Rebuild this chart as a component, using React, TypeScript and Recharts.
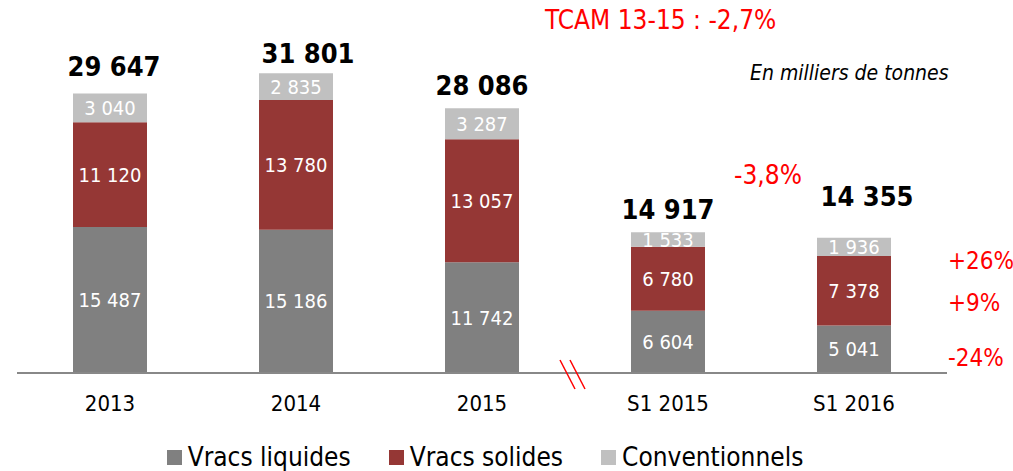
import { BarChart, Bar, XAxis, YAxis, LabelList } from 'recharts';

const categories = ['2013', '2014', '2015', 'S1 2015', 'S1 2016'];
const vracsLiquides = [15487, 15186, 11742, 6604, 5041];
const vracsSolides = [11120, 13780, 13057, 6780, 7378];
const conventionnels = [3040, 2835, 3287, 1533, 1936];
const totals = [29647, 31801, 28086, 14917, 14355];
const seriesNames = ['Vracs liquides', 'Vracs solides', 'Conventionnels'];
const seriesColors = ['#808080', '#953735', '#C0C0C0'];
const variations = ['+26%', '+9%', '-24%'];

// small offsets of the total labels relative to the bar top centre (px)
const totalLift = [4, -3, 0, 0, 18];
const totalShift = [4, 12, 0, 0, 13];

const FONT = '"DejaVu Sans Condensed", "DejaVu Sans", sans-serif';

const data = categories.map((c, i) => ({
  name: c,
  liquides: vracsLiquides[i],
  solides: vracsSolides[i],
  conv: conventionnels[i],
  total: totals[i],
}));

const fmt = (v: number) => v.toLocaleString('fr-FR').replace(/\s/g, ' ');

const InsideLabel = (props: any) => {
  const { x, y, width, height, value } = props;
  return (
    <text x={x + width / 2} y={y + height / 2} fill="#fff" fontSize={20} fontFamily={FONT}
      textAnchor="middle" dominantBaseline="central">
      {fmt(value)}
    </text>
  );
};

const TotalLabel = (props: any) => {
  const { x, y, width, index } = props;
  return (
    <text x={x + width / 2 + totalShift[index]} y={y - 23 - totalLift[index]} fill="#000" fontSize={27}
      fontWeight="bold" fontFamily={FONT} textAnchor="middle" dominantBaseline="central">
      {fmt(totals[index])}
    </text>
  );
};

export default function App() {
  return (
    <div style={{ position: 'absolute', left: 0, top: 0, width: 1013, height: 471, background: '#fff', fontFamily: FONT }}>
      <BarChart width={1013} height={471} data={data} barSize={74}
        margin={{ top: 43, right: 66, bottom: 0, left: 17 }}>
        <XAxis dataKey="name" height={98} axisLine={{ stroke: '#888', strokeWidth: 2 }} tickLine={false}
          tick={{ fill: '#000', fontSize: 22, fontFamily: FONT }} dy={14} interval={0} />
        <YAxis hide domain={[0, 35000]} />
        <Bar dataKey="liquides" stackId="a" fill={seriesColors[0]} isAnimationActive={false}>
          <LabelList dataKey="liquides" content={InsideLabel} />
        </Bar>
        <Bar dataKey="solides" stackId="a" fill={seriesColors[1]} isAnimationActive={false}>
          <LabelList dataKey="solides" content={InsideLabel} />
        </Bar>
        <Bar dataKey="conv" stackId="a" fill={seriesColors[2]} isAnimationActive={false}>
          <LabelList dataKey="conv" content={InsideLabel} />
          <LabelList dataKey="total" content={TotalLabel} />
        </Bar>
      </BarChart>

      <svg width={1013} height={471} style={{ position: 'absolute', left: 0, top: 0, pointerEvents: 'none' }}>
        <line x1={560} y1={360} x2={575} y2={389} stroke="#f00" strokeWidth={1.5} />
        <line x1={570} y1={360} x2={585} y2={389} stroke="#f00" strokeWidth={1.5} />
      </svg>

      <div style={{ position: 'absolute', left: 545, top: 4, color: '#f00', fontSize: 26, lineHeight: '32px' }}>TCAM 13-15 : -2,7%</div>
      <div style={{ position: 'absolute', left: 750, top: 60, color: '#000', fontSize: 21, lineHeight: '26px', fontStyle: 'italic' }}>En milliers de tonnes</div>
      <div style={{ position: 'absolute', left: 734, top: 159, color: '#f00', fontSize: 26, lineHeight: '32px' }}>-3,8%</div>
      <div style={{ position: 'absolute', left: 948, top: 245, color: '#f00', fontSize: 24, lineHeight: '32px' }}>{variations[0]}</div>
      <div style={{ position: 'absolute', left: 948, top: 287, color: '#f00', fontSize: 24, lineHeight: '32px' }}>{variations[1]}</div>
      <div style={{ position: 'absolute', left: 948, top: 342, color: '#f00', fontSize: 24, lineHeight: '32px' }}>{variations[2]}</div>

      <div style={{ position: 'absolute', left: 0, top: 441, width: 970, display: 'flex', justifyContent: 'center', gap: 38 }}>
        {seriesNames.map((n, i) => (
          <div key={n} style={{ display: 'flex', alignItems: 'center', gap: 6, fontSize: 26, lineHeight: '32px', color: '#000' }}>
            <div style={{ width: 15, height: 15, background: seriesColors[i] }} />
            {n}
          </div>
        ))}
      </div>
    </div>
  );
}
